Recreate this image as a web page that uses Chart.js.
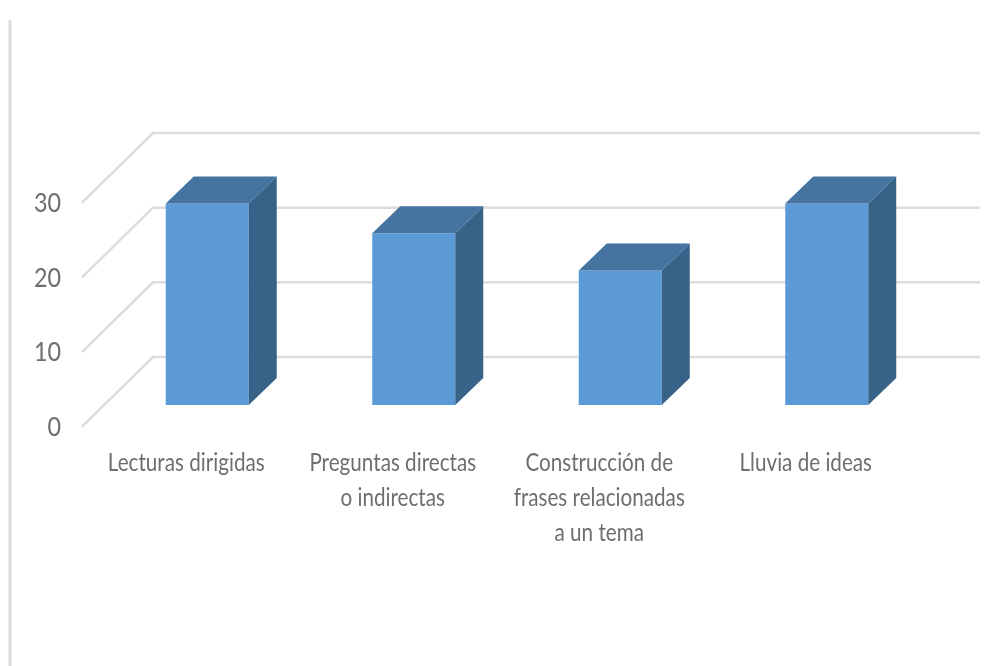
<!DOCTYPE html>
<html><head><meta charset="utf-8">
<style>html,body{margin:0;padding:0;background:#fff}canvas{display:block;filter:blur(0.5px)}</style>
<script src="https://cdn.jsdelivr.net/npm/chart.js@4"></script>
</head><body>
<canvas id="c" width="1008" height="666"></canvas>
<script>
const categories = [
  "Lecturas dirigidas",
  ["Preguntas directas", "o indirectas"],
  ["Construcción de", "frases relacionadas", "a un tema"],
  "Lluvia de ideas"
];
const values = [27, 23, 18, 27];
const gridValues = [0, 10, 20, 30];

const FRONT = 21.7, BACK = 48, WALL_L = 153, WALL_R = 980, FLOOR_L = 82;
const DX = 28, DY = 27;
const GRID = '#dcdcdc', TEXT = '#6e6e6e';
const TEXT_SQUEEZE = 0.85;

const threeD = {
  id: 'threeD',
  beforeDatasetsDraw(chart) {
    const ctx = chart.ctx, y = chart.scales.y;
    ctx.save();
    ctx.strokeStyle = GRID;
    ctx.lineWidth = 3;
    ctx.beginPath(); ctx.moveTo(10, 20); ctx.lineTo(10, 666); ctx.stroke();
    ctx.lineWidth = 2.5;
    ctx.lineJoin = 'miter';
    gridValues.forEach(v => {
      const p = y.getPixelForValue(v);
      ctx.beginPath();
      ctx.moveTo(FLOOR_L, p + FRONT);
      ctx.lineTo(WALL_L, p - BACK);
      ctx.lineTo(WALL_R, p - BACK);
      ctx.stroke();
    });
    ctx.restore();
  },
  afterDatasetsDraw(chart) {
    const ctx = chart.ctx;
    ctx.save();
    chart.getDatasetMeta(0).data.forEach(b => {
      const l = b.x - b.width / 2, r = b.x + b.width / 2, t = b.y, bot = b.base;
      ctx.fillStyle = '#4574a1';
      ctx.beginPath();
      ctx.moveTo(l, t); ctx.lineTo(l + DX, t - DY); ctx.lineTo(r + DX, t - DY); ctx.lineTo(r, t);
      ctx.closePath(); ctx.fill();
      ctx.fillStyle = '#386388';
      ctx.beginPath();
      ctx.moveTo(r, t); ctx.lineTo(r + DX, t - DY); ctx.lineTo(r + DX, bot - DY); ctx.lineTo(r, bot);
      ctx.closePath(); ctx.fill();
    });
    ctx.restore();
  }
};

const canvas = document.getElementById('c');
const c2d = canvas.getContext('2d');
const rawFillText = c2d.fillText;
c2d.fillText = function (s, x, y, w) {
  this.save();
  this.translate(x, y);
  this.scale(TEXT_SQUEEZE, 1);
  if (w === undefined) rawFillText.call(this, s, 0, 0); else rawFillText.call(this, s, 0, 0, w);
  this.restore();
};

new Chart(canvas, {
  type: 'bar',
  data: { labels: categories, datasets: [{ data: values, backgroundColor: '#5b9ad6',
    categoryPercentage: 1, barPercentage: 0.402 }] },
  plugins: [threeD],
  options: {
    responsive: false, animation: false,
    layout: { padding: { top: 181, right: 78, left: 0, bottom: 0 } },
    plugins: { legend: { display: false }, title: { display: false }, tooltip: { enabled: false } },
    scales: {
      x: {
        grid: { display: false }, border: { display: false },
        afterFit(s) { s.height = 261; },
        ticks: { maxRotation: 0, minRotation: 0, autoSkip: false, padding: 33, labelOffset: -21, color: TEXT,
          font: { family: 'Lato, "Liberation Sans"', size: 24.3, lineHeight: 1.44 } }
      },
      y: {
        min: 0, max: 30,
        grid: { display: false }, border: { display: false },
        afterFit(s) { s.width = 104; },
        ticks: { stepSize: 10, padding: 35, labelOffset: 22, color: TEXT,
          font: { family: 'Lato, "Liberation Sans"', size: 27.5 } }
      }
    }
  }
});
</script>
</body></html>
